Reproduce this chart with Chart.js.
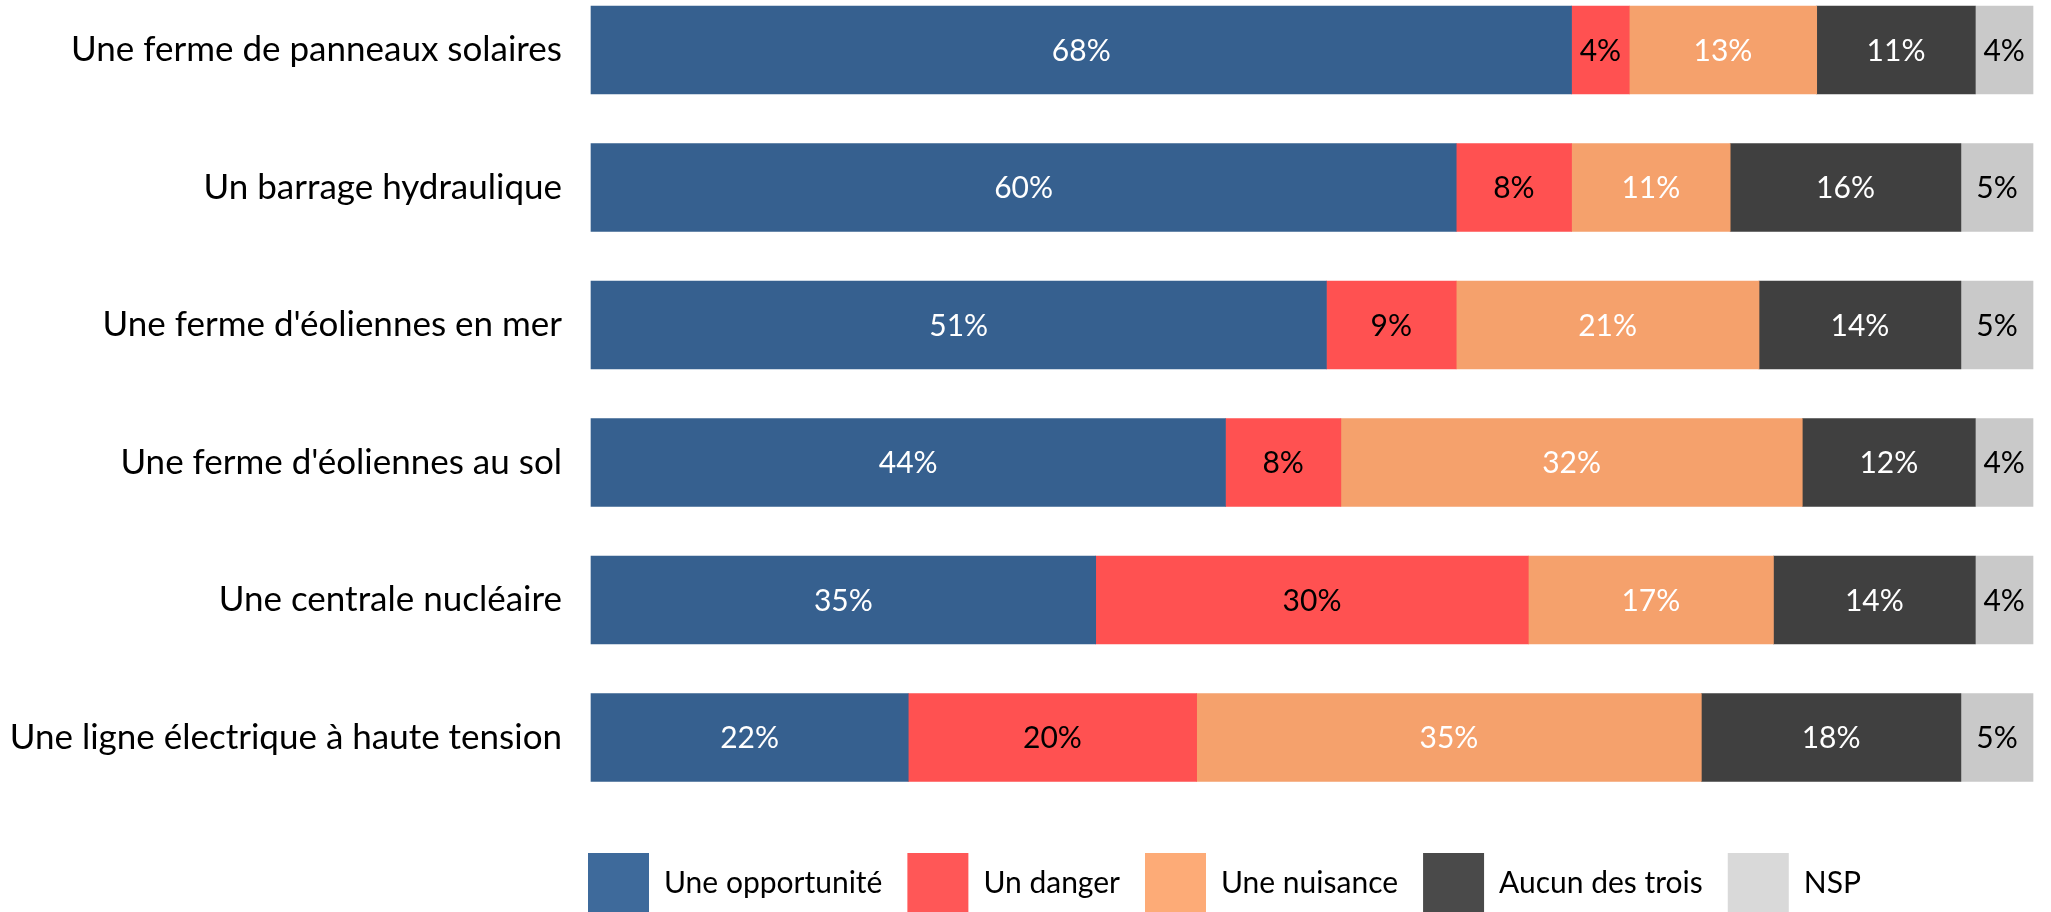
<!DOCTYPE html>
<html lang="fr">
<head>
<meta charset="utf-8">
<title>Perception des installations énergétiques</title>
<script src="https://cdn.jsdelivr.net/npm/chart.js@4/dist/chart.umd.min.js"></script>
<style>
  html, body { margin: 0; padding: 0; background: #fff; overflow: hidden; }
  #wrap { width: 2051px; height: 930px; position: relative; }
</style>
</head>
<body>
<div id="wrap"><canvas id="chart"></canvas></div>
<script>
// categories (top to bottom)
const categories = [
  'Une ferme de panneaux solaires',
  'Un barrage hydraulique',
  "Une ferme d'éoliennes en mer",
  "Une ferme d'éoliennes au sol",
  'Une centrale nucléaire',
  'Une ligne électrique à haute tension'
];

// series values (%)
const opportunite = [68, 60, 51, 44, 35, 22];
const danger      = [4, 8, 9, 8, 30, 20];
const nuisance    = [13, 11, 21, 32, 17, 35];
const aucun       = [11, 16, 14, 12, 14, 18];
const nsp         = [4, 5, 5, 4, 4, 5];

const seriesNames = ['Une opportunité', 'Un danger', 'Une nuisance', 'Aucun des trois', 'NSP'];

// colours: bars, legend swatches (slightly lighter in the original), label text
const barColours    = ['#36608f', '#ff5151', '#f5a16c', '#404040', '#c9c9c9'];
const legendColours = ['#3e6a9b', '#ff5757', '#fdab77', '#4a4a4a', '#d9d9d9'];
const labelColours  = ['#ffffff', '#000000', '#ffffff', '#ffffff', '#000000'];

const FONT = 'Lato, "Open Sans", sans-serif';
const LEGEND_PAD = 25;

// draw value labels centred in each segment
const segmentLabels = {
  id: 'segmentLabels',
  afterDatasetsDraw(chart) {
    const ctx = chart.ctx;
    ctx.save();
    ctx.font = '30px ' + FONT;
    ctx.textAlign = 'center';
    ctx.textBaseline = 'middle';
    chart.data.datasets.forEach((ds, i) => {
      const meta = chart.getDatasetMeta(i);
      meta.data.forEach((bar, j) => {
        const p = bar.getProps(['x', 'y', 'base'], true);
        ctx.fillStyle = labelColours[i];
        ctx.fillText(ds.data[j] + '%', (p.x + p.base) / 2, p.y + 1);
      });
    });
    ctx.restore();
  }
};

// start the legend just under the left edge of the bars
const legendStart = {
  id: 'legendStart',
  afterLayout(chart) {
    chart.legend.left = chart.chartArea.left - 3 - LEGEND_PAD;
  }
};

const allSeries = [opportunite, danger, nuisance, aucun, nsp];

new Chart(document.getElementById('chart'), {
  type: 'bar',
  data: {
    labels: categories,
    datasets: allSeries.map((vals, i) => ({
      label: seriesNames[i],
      data: vals,
      backgroundColor: barColours[i],
      borderWidth: 0,
      barThickness: 88,
      clip: false
    }))
  },
  options: {
    indexAxis: 'y',
    responsive: true,
    maintainAspectRatio: false,
    animation: false,
    layout: { padding: { left: 0, right: 18, top: 49, bottom: 7 } },
    scales: {
      x: {
        stacked: true,
        min: 0,
        max: 100,
        grid: { display: false },
        border: { display: false },
        ticks: { display: false },
        afterFit: s => { s.height = 90.5; }
      },
      y: {
        stacked: true,
        offset: false,
        grid: { display: false, drawTicks: false },
        border: { display: false },
        ticks: {
          color: '#000',
          padding: 29,
          autoSkip: false,
          font: { family: FONT, size: 35 }
        },
        afterFit: s => { s.width = 591; }
      }
    },
    plugins: {
      tooltip: { enabled: false },
      legend: {
        position: 'bottom',
        align: 'start',
        labels: {
          boxWidth: 61,
          boxHeight: 60,
          padding: LEGEND_PAD,
          color: '#000',
          font: { family: FONT, size: 30 },
          generateLabels: chart => chart.data.datasets.map((ds, i) => ({
            text: ds.label,
            fillStyle: legendColours[i],
            strokeStyle: legendColours[i],
            lineWidth: 0,
            datasetIndex: i
          }))
        }
      }
    }
  },
  plugins: [segmentLabels, legendStart]
});
</script>
</body>
</html>
